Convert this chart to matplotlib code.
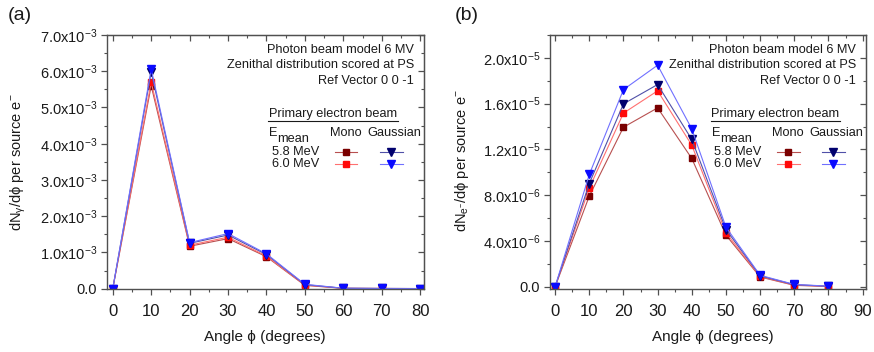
import matplotlib
matplotlib.use("Agg")
import matplotlib.pyplot as plt
from matplotlib.ticker import MultipleLocator, FixedLocator, FixedFormatter
from matplotlib.lines import Line2D

plt.rcParams['font.family'] = ['Liberation Sans', 'DejaVu Sans']
plt.rcParams['mathtext.fontset'] = 'custom'
plt.rcParams['mathtext.rm'] = 'Liberation Sans'
plt.rcParams['mathtext.it'] = 'Liberation Sans:italic'

# ---------------- data ----------------
angles_a = [0, 10, 20, 30, 40, 50, 60, 70, 80]
a_mono_58 = [0.0, 5.60e-3, 1.17e-3, 1.38e-3, 0.88e-3, 0.09e-3, 0.008e-3, 0.004e-3, 0.002e-3]
a_mono_60 = [0.0, 5.70e-3, 1.20e-3, 1.42e-3, 0.90e-3, 0.10e-3, 0.009e-3, 0.004e-3, 0.002e-3]
a_gaus_58 = [0.0, 5.98e-3, 1.25e-3, 1.48e-3, 0.94e-3, 0.11e-3, 0.010e-3, 0.005e-3, 0.002e-3]
a_gaus_60 = [0.0, 6.06e-3, 1.27e-3, 1.52e-3, 0.96e-3, 0.12e-3, 0.011e-3, 0.005e-3, 0.002e-3]

angles_b = [0, 10, 20, 30, 40, 50, 60, 70, 80]
b_mono_58 = [0.0, 7.92e-6, 13.94e-6, 15.63e-6, 11.21e-6, 4.51e-6, 0.85e-6, 0.12e-6, 0.02e-6]
b_mono_60 = [0.0, 8.62e-6, 15.17e-6, 17.12e-6, 12.37e-6, 4.72e-6, 0.90e-6, 0.15e-6, 0.03e-6]
b_gaus_58 = [0.0, 9.02e-6, 15.98e-6, 17.67e-6, 12.87e-6, 5.00e-6, 0.95e-6, 0.18e-6, 0.04e-6]
b_gaus_60 = [0.0, 9.81e-6, 17.23e-6, 19.36e-6, 13.80e-6, 5.21e-6, 1.00e-6, 0.20e-6, 0.05e-6]

a_yticks = [0, 1e-3, 2e-3, 3e-3, 4e-3, 5e-3, 6e-3, 7e-3]
a_yticklabels = ['0.0'] + [r'$\mathregular{%d.0x10^{-3}}$' % i for i in range(1, 8)]
b_yticks = [0, 4e-6, 8e-6, 12e-6, 16e-6, 20e-6]
b_yticklabels = ['0.0', r'$\mathregular{4.0x10^{-6}}$', r'$\mathregular{8.0x10^{-6}}$',
                 r'$\mathregular{1.2x10^{-5}}$', r'$\mathregular{1.6x10^{-5}}$',
                 r'$\mathregular{2.0x10^{-5}}$']

annot_lines = ['Photon beam model 6 MV', 'Zenithal distribution scored at PS', 'Ref Vector 0 0 -1']
legend_title = 'Primary electron beam'
energies = ['5.8 MeV', '6.0 MeV']

# styles
C_DR, C_DR_L = '#7a0000', '#b85050'
C_R, C_R_L = '#ff0a0a', '#ff7070'
C_N, C_N_L = '#00006e', '#5050a8'
C_B, C_B_L = '#0a0aff', '#7070ff'
SPINE = '#505050'
TXT = '#1a1a1a'
FS_ANN = 9.2

W, H = 874, 352
fig = plt.figure(figsize=(W / 100, H / 100), dpi=100)


def add_ax(left_px, right_px, top_px, bottom_px):
    return fig.add_axes([left_px / W, 1 - bottom_px / H,
                         (right_px - left_px) / W, (bottom_px - top_px) / H])


def style_ax(ax, xmaj, xmin, ymin_loc):
    for s in ax.spines.values():
        s.set_color(SPINE)
        s.set_linewidth(1.0)
    ax.xaxis.set_major_locator(MultipleLocator(xmaj))
    ax.xaxis.set_minor_locator(MultipleLocator(xmin))
    ax.yaxis.set_minor_locator(MultipleLocator(ymin_loc))
    ax.tick_params(which='both', colors=SPINE, labelcolor=TXT)
    ax.tick_params(axis='x', which='major', direction='out', length=4, width=0.9,
                   pad=7, labelsize=12, bottom=True, top=False)
    ax.tick_params(axis='x', which='minor', direction='out', length=2.5, width=0.8,
                   bottom=True, top=False)
    ax.tick_params(axis='y', which='major', direction='out', length=4, width=0.9,
                   pad=3, labelsize=10.5, left=True, right=False)
    ax.tick_params(axis='y', which='minor', direction='out', length=2.5, width=0.8,
                   left=True, right=False)
    tx = ax.secondary_xaxis('top')
    tx.xaxis.set_major_locator(MultipleLocator(xmaj))
    tx.xaxis.set_minor_locator(MultipleLocator(xmin))
    tx.tick_params(which='major', direction='in', length=4, width=0.9, colors=SPINE,
                   labeltop=False)
    tx.tick_params(which='minor', direction='in', length=2.5, width=0.8, colors=SPINE)
    tx.spines['top'].set_color(SPINE)
    ty = ax.secondary_yaxis('right')
    ty.yaxis.set_major_locator(FixedLocator(ax.get_yticks()))
    ty.yaxis.set_minor_locator(MultipleLocator(ymin_loc))
    ty.tick_params(which='major', direction='in', length=4, width=0.9, colors=SPINE,
                   labelright=False)
    ty.tick_params(which='minor', direction='in', length=2.5, width=0.8, colors=SPINE)
    ty.spines['right'].set_color(SPINE)


def plot_series(ax, x, m58, m60, g58, g60):
    kw = dict(linewidth=0.8)
    ax.plot(x, m58, color=C_DR_L, marker='s', markersize=5, markerfacecolor=C_DR,
            markeredgecolor=C_DR, **kw)
    ax.plot(x, m60, color=C_R_L, marker='s', markersize=5, markerfacecolor=C_R,
            markeredgecolor=C_R, **kw)
    ax.plot(x, g58, color=C_N_L, marker='v', markersize=6.2, markerfacecolor=C_N,
            markeredgecolor=C_N, **kw)
    ax.plot(x, g60, color=C_B_L, marker='v', markersize=6.2, markerfacecolor=C_B,
            markeredgecolor=C_B, **kw)


def annotate(ax):
    t = ax.transAxes
    ys = [0.940, 0.882, 0.820]
    for line, yy in zip(annot_lines, ys):
        ax.text(0.968, yy, line, transform=t, ha='right', va='center', fontsize=FS_ANN,
                color=TXT)
    ax.text(0.713, 0.690, legend_title, transform=t, ha='center', va='center',
            fontsize=FS_ANN, color=TXT)
    ax.add_line(Line2D([0.508, 0.918], [0.661, 0.661], transform=t, color=TXT,
                       linewidth=0.8))
    ax.text(0.512, 0.613, 'E', transform=t, ha='left', va='center',
            fontsize=FS_ANN, color=TXT)
    ax.text(0.537, 0.590, 'mean', transform=t, ha='left', va='center',
            fontsize=FS_ANN, color=TXT)
    ax.text(0.752, 0.616, 'Mono', transform=t, ha='center', va='center', fontsize=FS_ANN,
            color=TXT)
    ax.text(0.905, 0.616, 'Gaussian', transform=t, ha='center', va='center',
            fontsize=FS_ANN, color=TXT)
    for e, yy in zip(energies, [0.539, 0.492]):
        ax.text(0.668, yy, e, transform=t, ha='right', va='center', fontsize=FS_ANN,
                color=TXT)
    specs = [
        (0.539, C_DR, C_DR_L, 's', 5, 0.754),
        (0.492, C_R, C_R_L, 's', 5, 0.754),
        (0.539, C_N, C_N_L, 'v', 6.2, 0.897),
        (0.492, C_B, C_B_L, 'v', 6.2, 0.897),
    ]
    for yy, mc, lc, mk, ms, xc in specs:
        ax.add_line(Line2D([xc - 0.036, xc + 0.036], [yy, yy], transform=t, color=lc,
                           linewidth=0.8))
        ax.add_line(Line2D([xc], [yy], transform=t, marker=mk, markersize=ms,
                           markerfacecolor=mc, markeredgecolor=mc, linestyle='none'))


# ---------------- panel (a) ----------------
axa = add_ax(107, 424, 35, 289)
plot_series(axa, angles_a, a_mono_58, a_mono_60, a_gaus_58, a_gaus_60)
axa.set_xlim(-1.5, 81)
axa.set_ylim(-0.01e-3, 7.0e-3)
axa.yaxis.set_major_locator(FixedLocator(a_yticks))
axa.yaxis.set_major_formatter(FixedFormatter(a_yticklabels))
style_ax(axa, 10, 5, 0.5e-3)
annotate(axa)

# ---------------- panel (b) ----------------
axb = add_ax(550, 866, 35, 289)
plot_series(axb, angles_b, b_mono_58, b_mono_60, b_gaus_58, b_gaus_60)
axb.set_xlim(-1.5, 91)
axb.set_ylim(-0.02e-5, 2.2e-5)
axb.yaxis.set_major_locator(FixedLocator(b_yticks))
axb.yaxis.set_major_formatter(FixedFormatter(b_yticklabels))
style_ax(axb, 10, 5, 2e-6)
annotate(axb)

# labels
fig.text(20 / W, 1 - 15 / H, '(a)', fontsize=14, ha='center', va='center', color=TXT)
fig.text(467 / W, 1 - 15 / H, '(b)', fontsize=14, ha='center', va='center', color=TXT)
fig.text(18 / W, 1 - 162 / H,
         r'dN$_{\mathregular{γ}}$/dϕ per source e$^{\mathregular{-}}$',
         rotation=90, ha='center', va='center', fontsize=10.5, color=TXT)
fig.text(462 / W, 1 - 161 / H,
         r'dN$_{\mathregular{e^{-}}}$/dϕ per source e$^{\mathregular{-}}$',
         rotation=90, ha='center', va='center', fontsize=10.5, color=TXT)
fig.text(265 / W, 1 - 337 / H, 'Angle ϕ (degrees)', ha='center', va='center',
         fontsize=11, color=TXT)
fig.text(713 / W, 1 - 337 / H, 'Angle ϕ (degrees)', ha='center', va='center',
         fontsize=11, color=TXT)

fig.savefig('out.png', dpi=100)
